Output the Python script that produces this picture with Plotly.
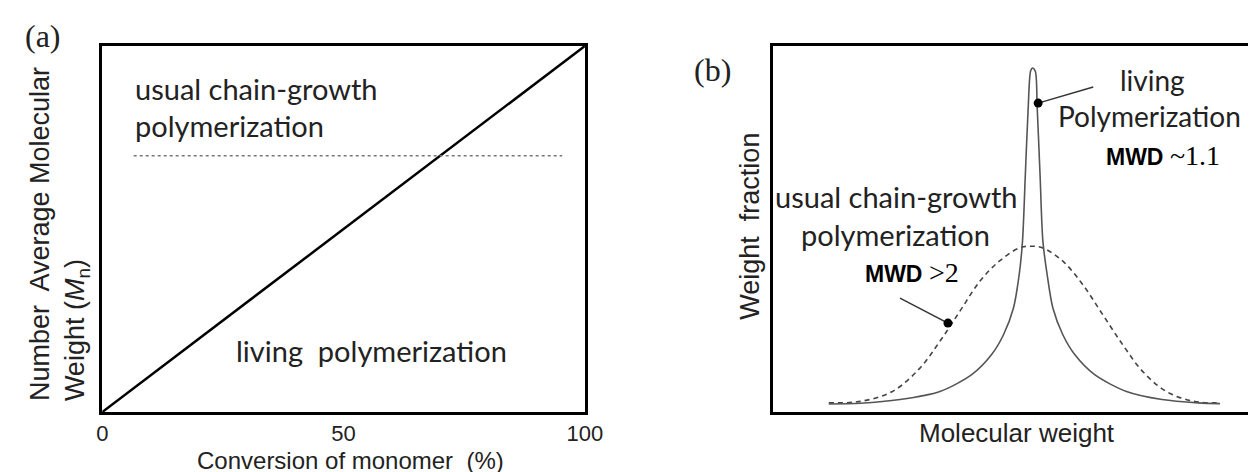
import plotly.graph_objects as go

# ---------------- data ----------------
# Panel (a): Mn vs conversion
conv_living = [0, 100]
mn_living = [0, 100]
conv_usual = [6.5, 95.3]
mn_usual = [70, 70]
a_ticks = [0, 50, 100]
a_ticktext = ["0", "50", "100"]

# Panel (b): weight fraction vs molecular weight
mw_living = [11.7, 18.4, 26.7, 35.1, 41.8, 46.0, 48.5, 50.6, 51.8, 52.5, 53.1, 53.7, 54.2,
             54.6, 55.2, 55.6, 56.2, 56.8, 57.7, 58.9, 61.0, 63.5, 67.7, 74.4, 81.9, 89.5, 94.1]
wf_living = [2.2, 2.4, 3.4, 5.6, 10.2, 15.7, 21.1, 28.4, 37.5, 46.6, 64.8, 83.1, 93.1,
             94.0, 93.1, 83.1, 64.8, 46.6, 37.5, 28.4, 21.1, 15.7, 10.2, 5.6, 3.4, 2.5, 2.3]
mw_usual = [11.7, 18.4, 25.1, 30.9, 35.1, 39.3, 43.5, 47.6, 51.8, 54.3, 56.8, 61.0, 65.2,
            69.4, 73.6, 77.8, 82.8, 88.6, 94.1]
wf_usual = [2.5, 2.9, 5.6, 12.0, 19.3, 27.5, 35.7, 41.2, 44.8, 45.3, 44.8, 41.2, 34.8,
            26.6, 18.4, 11.1, 5.6, 2.9, 2.5]

# callouts in panel (b): [dot, line end]
callout_living_x = [55.8, 67.4]
callout_living_y = [84.4, 88.8]
callout_usual_x = [36.8, 26.7]
callout_usual_y = [24.3, 31.1]

# ---------------- figure ----------------
TXT = "Lato"
AX = "Liberation Sans"
SERIF = "Liberation Serif"

fig = go.Figure()

fig.add_trace(go.Scatter(x=conv_living, y=mn_living, mode="lines",
                         line=dict(color="black", width=2.5), xaxis="x", yaxis="y",
                         showlegend=False, hoverinfo="skip"))
fig.add_trace(go.Scatter(x=conv_usual, y=mn_usual, mode="lines",
                         line=dict(color="#777777", width=1.5, dash="3px,3px"),
                         xaxis="x", yaxis="y", showlegend=False, hoverinfo="skip"))

fig.add_trace(go.Scatter(x=mw_usual, y=wf_usual, mode="lines",
                         line=dict(color="#444444", width=1.6, dash="5px,4px", shape="spline"),
                         xaxis="x2", yaxis="y2", showlegend=False, hoverinfo="skip"))
fig.add_trace(go.Scatter(x=mw_living, y=wf_living, mode="lines",
                         line=dict(color="#555555", width=1.6, shape="spline", smoothing=0.8),
                         xaxis="x2", yaxis="y2", showlegend=False, hoverinfo="skip"))

for cx, cy in [(callout_living_x, callout_living_y), (callout_usual_x, callout_usual_y)]:
    fig.add_trace(go.Scatter(x=cx, y=cy, mode="lines", line=dict(color="#333333", width=1.5),
                             xaxis="x2", yaxis="y2", showlegend=False, hoverinfo="skip"))
    fig.add_trace(go.Scatter(x=[cx[0]], y=[cy[0]], mode="markers",
                             marker=dict(color="black", size=9),
                             xaxis="x2", yaxis="y2", showlegend=False, hoverinfo="skip"))

ydom = [1 - 404 / 472, 1 - 38 / 472]
axis_common = dict(showgrid=False, zeroline=False, showline=True, linecolor="black",
                   linewidth=3, ticks="", fixedrange=True)

fig.update_layout(
    width=1258, height=472,
    margin=dict(l=0, r=0, t=0, b=0),
    paper_bgcolor="white", plot_bgcolor="white",
    xaxis=dict(domain=[90 / 1258, 582 / 1258], range=[0, 100], mirror=True,
               tickvals=a_ticks, ticktext=a_ticktext, ticklabelstandoff=0,
               tickfont=dict(family=AX, size=22, color="#222222"), **axis_common),
    yaxis=dict(domain=ydom, range=[0, 100], mirror=True, showticklabels=False, **axis_common),
    xaxis2=dict(domain=[774 / 1258, 1.0], range=[0, 100], mirror=True,
                showticklabels=False, anchor="y2", **axis_common),
    yaxis2=dict(domain=ydom, range=[0, 100], mirror=False, showticklabels=False,
                anchor="x2", **axis_common),
)

ann = []
def add(text, x, y, xref, yref, size, family=TXT, xanchor="center", yanchor="middle",
        angle=0, align="center", color="#222222"):
    ann.append(dict(text=text, x=x, y=y, xref=xref, yref=yref, showarrow=False,
                    font=dict(family=family, size=size, color=color), xanchor=xanchor,
                    yanchor=yanchor, textangle=angle, align=align))

# panel labels
add("(a)", 30 / 1258, 1 - 28 / 472, "paper", "paper", 32, family=SERIF)
add("(b)", 712 / 1258, 1 - 62 / 472, "paper", "paper", 32, family=SERIF)

# axis titles (a)
add("Conversion of monomer  (%)", 343 / 1258, 4 / 472, "paper", "paper", 24, family=AX,
    yanchor="bottom")
add("Number  Average Molecular<br>Weight (<i>M</i><sub>n</sub>)", 46 / 1258, 1 - 226 / 472,
    "paper", "paper", 27, family=AX, angle=-90, align="left")
# axis titles (b)
add("Molecular weight", 1022 / 1258, 1 - 425 / 472, "paper", "paper", 26, family=AX)
add("Weight  fraction", 750 / 1258, 1 - 218 / 472, "paper", "paper", 27, family=AX, angle=-90)

# panel (a) texts
add("usual chain-growth", 6.3, 88.5, "x", "y", 29, xanchor="left")
add("polymerization", 6.3, 78.4, "x", "y", 29, xanchor="left")
add("living  polymerization", 55.7, 16.7, "x", "y", 29)

# panel (b) texts
add("living", 79.8, 90.7, "x2", "y2", 28)
add("Polymerization", 79.3, 80.9, "x2", "y2", 28)
add("<b>MWD</b> <span style='font-family:Liberation Serif;font-size:28px'>~1.1</span>",
    82.0, 70.2, "x2", "y2", 23, family=AX, color="black")
add("usual chain-growth", 26.0, 59.0, "x2", "y2", 29)
add("polymerization", 25.8, 48.4, "x2", "y2", 29)
add("<b>MWD</b> <span style='font-family:Liberation Serif;font-size:28px'>&gt;2</span>",
    29.3, 38.0, "x2", "y2", 23, family=AX, color="black")

fig.update_layout(annotations=ann)
fig.write_html("out.html")
